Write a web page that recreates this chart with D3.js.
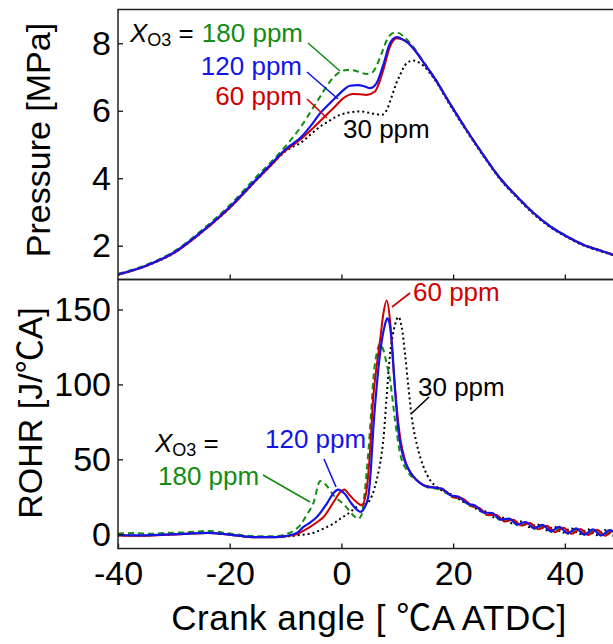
<!DOCTYPE html>
<html>
<head>
<meta charset="utf-8">
<script src="https://cdn.jsdelivr.net/npm/d3@7"></script>
<style>
  html, body { margin: 0; padding: 0; background: #fff; }
  svg { display: block; }
  text { font-family: "Liberation Sans", Arial, "Noto Sans CJK JP", sans-serif; }
</style>
</head>
<body>
<div id="chart"></div>
<script>
// ---- Cylinder pressure [MPa] vs crank angle, per ozone concentration ----
const pressureAngle30 = [-40,-35,-30,-25,-20,-15,-12.5,-10,-8.5,-7.4,-5.5,-3.8,-2,-0.25,1.5,3.3,5.5,7.2,8.2,9,9.8,10.5,11.7,12.9,14,14.7,16.5,19.4,22.4,25.4,28.4,31.4,34.4,37.4,40.3,43.3,46.3,48.6,50];
const pressure30      = [1.14,1.40,1.78,2.40,3.12,3.98,4.40,4.80,4.95,5.04,5.30,5.53,5.72,5.88,5.95,5.98,5.92,5.88,6.05,6.42,6.80,7.06,7.41,7.49,7.42,7.33,6.97,6.18,5.40,4.66,3.97,3.43,2.94,2.55,2.26,2.01,1.84,1.72,1.66];

const pressureAngle60 = [-40,-35,-30,-25,-20,-15,-12.5,-10,-8.5,-7.4,-5,-2.65,-1,0.33,2.1,3.3,4.5,6.0,6.8,7.5,8.7,9.9,11.1,12,13,14,15,16.5,19.4,22.4,25.4,28.4,31.4,34.4,37.4,40.3,43.3,46.3,48.6,50];
const pressure60      = [1.14,1.40,1.78,2.40,3.12,3.98,4.40,4.82,5.00,5.14,5.50,5.88,6.15,6.37,6.50,6.49,6.47,6.57,6.85,7.21,7.90,8.15,8.10,8.00,7.82,7.60,7.36,7.01,6.22,5.43,4.69,4.00,3.46,2.97,2.57,2.28,2.03,1.86,1.74,1.68];

const pressureAngle120 = [-40,-35,-30,-25,-20,-15,-12.5,-10,-8.5,-7.4,-5.5,-3.8,-2.2,-0.85,0.4,1.5,3.0,4.2,5.1,6.3,7.5,8.7,9.9,11.1,12,13,14,15,16.5,19.4,22.4,25.4,28.4,31.4,34.4,37.4,40.3,43.3,46.3,48.6,50];
const pressure120      = [1.15,1.41,1.80,2.42,3.15,4.01,4.44,4.86,5.05,5.19,5.55,5.93,6.20,6.42,6.62,6.74,6.76,6.72,6.67,6.82,7.36,8.00,8.18,8.10,8.00,7.82,7.60,7.36,7.01,6.22,5.43,4.69,4.00,3.46,2.97,2.57,2.28,2.03,1.86,1.74,1.68];

const pressureAngle180 = [-40,-35,-30,-25,-20,-15,-12,-10,-8.5,-7.4,-5.5,-3.8,-2,-1,0,1,2,3,4.5,5.5,6.2,7.2,8.4,9.5,10.3,11.1,12,13,14,15,16.5,19.4,22.4,25.4,28.4,31.4,34.4,37.4,40.3,43.3,46.3,48.6,50];
const pressure180      = [1.17,1.43,1.83,2.46,3.20,4.08,4.58,4.95,5.25,5.49,5.98,6.42,6.88,7.06,7.17,7.21,7.20,7.16,7.09,7.13,7.30,7.70,8.18,8.31,8.30,8.20,8.06,7.86,7.62,7.38,7.02,6.23,5.44,4.70,4.01,3.47,2.98,2.58,2.29,2.04,1.87,1.75,1.69];

// ---- Rate of heat release [J/°CA] vs crank angle ----
const rohrAngle30 = [-40,-36,-32,-28,-24,-20,-16,-12,-10,-7,-5,-3.2,-1.5,-0.2,1.5,2.7,3.6,4.5,5.5,6.3,7.2,7.5,8.1,8.7,9.2,9.6,10.2,10.8,11.4,12.0,12.6,13.5,14.7,15.9,17.1,18.6,20.1,21.6,23.1,24.6,26.1,27.6,29.1,30.6,32.1,33.6,35.1,36.6,38.1,39.6,41.1,42.6,44.1,45.6,47.1,48.6,50.1];
const rohr30      = [-0.6,-0.8,-0.3,0.4,0.9,-0.2,-1.8,-1.8,-1.5,-0.3,1,3.8,7,10.4,14.5,18.2,19.8,20.5,26,36,53.8,62.7,92,120,133,140,145,138,120,98,78,60,45,36,31.5,28,26,22,20.5,15.8,15,10.8,11,7.3,8.6,4.8,6.6,2.6,5,1,4,0,3.3,-0.6,2.8,-1,2.4];

const rohrAngle60 = [-40,-36,-32,-28,-24,-20,-16,-12,-10,-8,-6.5,-5.6,-4.4,-3.2,-1.4,-0.2,0.5,1.5,2.7,3.6,4.4,5.1,5.7,6.3,6.9,7.5,8.1,8.7,9.3,9.9,10.5,11.4,12.3,13.5,14.7,15.9,17,18,18.75,20.25,21.75,23.25,24.75,26.25,27.75,29.25,30.75,32.25,33.75,35.25,36.75,38.25,39.75,41.25,42.75,44.25,45.75,47.25,48.75,50.25];
const rohr60      = [-0.8,-1,-0.5,0.2,0.8,-0.3,-2,-2,-1.4,0,3,4.9,8,11.5,21.5,28.2,29.8,26,21.5,19.3,27,53.8,91.5,112,129,147,156,142.7,111.5,84.9,64.9,49.3,41.5,36,32.7,31.5,31.2,30,28.5,24.5,23.8,19,17.5,12.8,12.8,8.5,9.7,5.8,7.5,3.4,5.6,1.4,4.4,0.3,3.5,-0.5,3.0,-1.0,2.6,-1.2];

const rohrAngle120 = [-40,-36,-32,-28,-24,-20,-16,-12,-10,-8,-6.8,-5.6,-4.4,-2.6,-1.4,-0.6,0.6,1.8,2.6,3.4,4.1,4.8,5.3,5.7,6.3,6.9,7.8,8.2,8.6,9.0,9.6,10.2,11.1,12.3,13.5,14.7,15.9,17,18,19.5,21,22.5,24,25.5,27,28.5,30,31.5,33,34.5,36,37.5,39,40.5,42,43.5,45,46.5,48,49.5];
const rohr120      = [-0.5,-0.7,-0.3,0.3,0.9,-0.2,-1.9,-1.9,-1.2,0.8,4.9,7.8,11.5,20.5,27.5,29.8,27,20.5,17,14.9,17.5,24.9,45,70,98,120,140,144,141,129,96,69,51.5,41.5,36,32.7,31.5,31,30.5,26,25,20.5,19,14.5,14.2,9.8,10.4,6.5,8.2,4,6.3,2,4.9,0.6,3.9,-0.3,3.2,-0.8,2.7,-1.2];

const rohrAngle180 = [-40,-37,-34,-31,-28,-24,-20,-16,-12,-10,-8.5,-7.4,-6.2,-5,-3.8,-2.8,-1.4,0.6,2.1,3.0,3.6,4.2,4.8,5.3,5.7,6.4,6.9,7.5,8.2,8.7,9.6,10.5,11.7,13.5,15.3,16.8,18.3,19.8,21.3,22.8,24.3,25.8,27.3,28.8,30.3,31.8,33.3,34.8,36.3,37.8,39.3,40.8,42.3,43.8,45.3,46.8,48.3,49.8];
const rohr180      = [0.5,0.8,0.3,1,1.2,2.2,0.5,-1.2,-1.3,0,2.5,6,13,21,35.5,33,26,19.3,12.7,10.4,13,29,54,80,103,122,127,123,112,103,76,54,42.7,36,31.5,30.5,29,24.8,23.8,19.3,17.8,13,12.5,8.6,9.2,5.5,7.2,3.2,5.4,1.2,4.2,0,3.3,-0.8,2.6,-1.2,2.2,-1.5];

// ---- Axis ticks ----
const angleTicks = [-40, -20, 0, 20, 40];
const pressureTicks = [2, 4, 6, 8];
const rohrTicks = [0, 50, 100, 150];

// ---- Series styling ----
const seriesStyle = {
  "30":  { color: "#000000", width: 2,   dash: "2,3" },
  "60":  { color: "#d00000", width: 2,   dash: null },
  "120": { color: "#1414e6", width: 2.2, dash: null },
  "180": { color: "#128c12", width: 2,   dash: "6,4" }
};

const W = 613, H = 644;
const left = 118, right = 620.7;
const topP = 9.5, mid = 279.5, bottom = 548.5;

const svg = d3.select("#chart").append("svg").attr("width", W).attr("height", H);

const x = d3.scaleLinear().domain([-40, 50]).range([left, right]);
const yP = d3.scaleLinear().domain([1, 9]).range([mid, topP]);
const yR = d3.scaleLinear().domain([-9.5, 170]).range([bottom, mid]);

const defs = svg.append("defs");
defs.append("clipPath").attr("id", "clipTop")
  .append("rect").attr("x", left).attr("y", topP).attr("width", right - left).attr("height", mid - topP);
defs.append("clipPath").attr("id", "clipBottom")
  .append("rect").attr("x", left).attr("y", mid).attr("width", right - left).attr("height", bottom - mid);

function drawSeries(g, xs, ys, yScale, key) {
  const st = seriesStyle[key];
  const pts = xs.map((a, i) => [a, ys[i]]);
  const line = d3.line().x(d => x(d[0])).y(d => yScale(d[1])).curve(d3.curveMonotoneX);
  g.append("path")
    .attr("d", line(pts))
    .attr("fill", "none")
    .attr("stroke", st.color)
    .attr("stroke-width", st.width)
    .attr("stroke-dasharray", st.dash)
    .attr("stroke-linejoin", "round");
}

// Pressure panel curves
const gTop = svg.append("g").attr("clip-path", "url(#clipTop)");
drawSeries(gTop, pressureAngle30, pressure30, yP, "30");
drawSeries(gTop, pressureAngle180, pressure180, yP, "180");
drawSeries(gTop, pressureAngle60, pressure60, yP, "60");
drawSeries(gTop, pressureAngle120, pressure120, yP, "120");

// ROHR panel curves
const gBot = svg.append("g").attr("clip-path", "url(#clipBottom)");
drawSeries(gBot, rohrAngle30, rohr30, yR, "30");
drawSeries(gBot, rohrAngle180, rohr180, yR, "180");
drawSeries(gBot, rohrAngle60, rohr60, yR, "60");
drawSeries(gBot, rohrAngle120, rohr120, yR, "120");

// Axes (inward ticks, plain hyphen for negatives)
const tickFont = 34;
const plain = d => String(d);
function styleAxis(g) {
  g.select(".domain").remove();
  g.selectAll(".tick line").attr("stroke", "#111").attr("stroke-width", 1.3);
  g.selectAll(".tick text").attr("font-size", tickFont).attr("fill", "#000")
    .style("font-family", "'Liberation Sans', Arial, sans-serif");
}

svg.append("g").attr("transform", `translate(${left},0)`)
  .call(d3.axisLeft(yP).tickValues(pressureTicks).tickFormat(plain).tickSizeInner(-5).tickSizeOuter(0).tickPadding(7))
  .call(styleAxis);
svg.append("g").attr("transform", `translate(0,${mid})`)
  .call(d3.axisBottom(x).tickValues(angleTicks.slice(1)).tickSizeInner(-5).tickSizeOuter(0).tickFormat(""))
  .call(styleAxis);
svg.append("g").attr("transform", `translate(${left},0)`)
  .call(d3.axisLeft(yR).tickValues(rohrTicks).tickFormat(plain).tickSizeInner(-5).tickSizeOuter(0).tickPadding(7))
  .call(styleAxis);
svg.append("g").attr("transform", `translate(0,${bottom})`)
  .call(d3.axisBottom(x).tickValues(angleTicks).tickFormat(plain).tickSizeInner(-5).tickSizeOuter(0).tickPadding(12))
  .call(styleAxis);

// Frames
svg.append("rect").attr("x", left).attr("y", topP).attr("width", right - left).attr("height", mid - topP)
  .attr("fill", "none").attr("stroke", "#222").attr("stroke-width", 1.5);
svg.append("rect").attr("x", left).attr("y", mid).attr("width", right - left).attr("height", bottom - mid)
  .attr("fill", "none").attr("stroke", "#222").attr("stroke-width", 1.5);

// Axis titles
svg.append("text").attr("transform", `translate(50,140) rotate(-90)`)
  .attr("text-anchor", "middle").attr("font-size", 34).text("Pressure [MPa]");
svg.append("text").attr("transform", `translate(42,413) rotate(-90)`)
  .attr("text-anchor", "middle").attr("font-size", 34).text("ROHR [J/℃A]");
svg.append("text").attr("x", 369).attr("y", 630)
  .attr("text-anchor", "middle").attr("font-size", 35).attr("letter-spacing", 0.5)
  .text("Crank angle [ ℃A ATDC]");

// Annotations
const annFont = 26;
function label(xp, yp, txt, color, anchor) {
  svg.append("text").attr("x", xp).attr("y", yp).attr("font-size", annFont)
    .attr("fill", color).attr("text-anchor", anchor || "start").text(txt);
}
function leader(x1, y1, x2, y2, color) {
  svg.append("line").attr("x1", x1).attr("y1", y1).attr("x2", x2).attr("y2", y2)
    .attr("stroke", color).attr("stroke-width", 1.6);
}
function xo3(xp, yp) {
  const t = svg.append("text").attr("x", xp).attr("y", yp).attr("font-size", annFont).attr("fill", "#000");
  t.append("tspan").attr("font-style", "italic").text("X");
  t.append("tspan").attr("font-size", 18).attr("dy", 4).text("O3");
  t.append("tspan").attr("dy", -4).text(" =");
}

// Pressure panel labels
xo3(130, 42);
label(303, 42, "180 ppm", seriesStyle["180"].color, "end");
label(302, 75, "120 ppm", seriesStyle["120"].color, "end");
label(302, 105, "60 ppm", seriesStyle["60"].color, "end");
label(343, 138, "30 ppm", "#000");
leader(308, 43, 340, 71, seriesStyle["180"].color);
leader(307, 72, 338, 99, seriesStyle["120"].color);
leader(307, 99, 327, 118, seriesStyle["60"].color);

// ROHR panel labels
label(413, 301, "60 ppm", seriesStyle["60"].color);
leader(410, 293, 392, 307, seriesStyle["60"].color);
label(418, 396, "30 ppm", "#000");
leader(429, 397, 412, 413, "#000");
label(265, 448, "120 ppm", seriesStyle["120"].color);
leader(324, 459, 336, 487, seriesStyle["120"].color);
xo3(155, 452);
label(158, 485, "180 ppm", seriesStyle["180"].color);
leader(263, 475, 310, 502, seriesStyle["180"].color);
</script>
</body>
</html>
